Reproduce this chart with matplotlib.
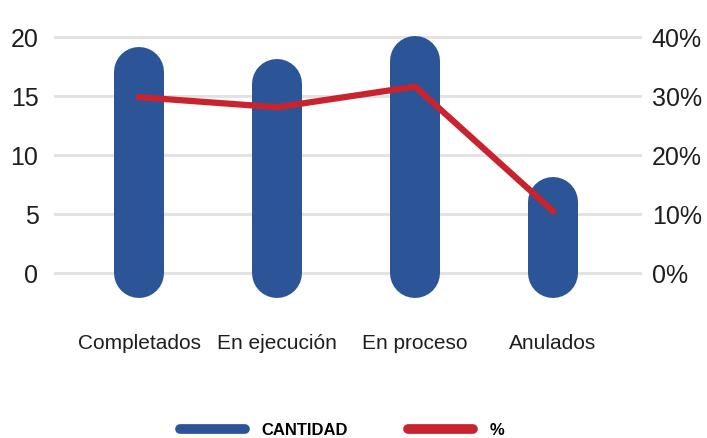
import matplotlib
matplotlib.use("Agg")
import matplotlib.pyplot as plt
from matplotlib.lines import Line2D
from matplotlib.ticker import FuncFormatter

# datos
categorias = ["Completados", "En ejecución", "En proceso", "Anulados"]
cantidad = [17, 16, 18, 6]
porcentaje = [29.8, 28.1, 31.6, 10.5]

azul = "#2B5597"
rojo = "#C8232F"

plt.rcParams["font.family"] = ["Liberation Sans", "DejaVu Sans"]

fig = plt.figure(figsize=(7.07, 4.38), dpi=100)
ax = fig.add_axes([0.078, 0.3767, 0.827, 0.5388])
ax2 = ax.twinx()

x = list(range(len(categorias)))

# barras redondeadas
for xi, v in zip(x, cantidad):
    ax.plot([xi, xi], [0, v], color=azul, linewidth=36, solid_capstyle="round",
            clip_on=False, zorder=3)

ax2.plot(x, porcentaje, color=rojo, linewidth=4.5, solid_joinstyle="round", zorder=4)

ax.set_xlim(-0.61, 3.63)
ax.set_ylim(0, 20)
ax.set_yticks([0, 5, 10, 15, 20])
ax2.set_ylim(0, 40)
ax2.set_yticks([0, 10, 20, 30, 40])
ax2.yaxis.set_major_formatter(FuncFormatter(lambda v, p: f"{v:.0f}%"))

ax.grid(axis="y", color="#E3E3E3", linewidth=2.2, zorder=0)
for gl in ax.get_ygridlines():
    gl.set_clip_on(False)
ax.set_axisbelow(True)

for a in (ax, ax2):
    for s in a.spines.values():
        s.set_visible(False)
    a.tick_params(length=0, labelsize=18, colors="#1E1E1E")

ax.tick_params(axis="y", pad=12)
ax2.tick_params(axis="y", pad=8.5)
ax.set_xticks(x)
ax.set_xticklabels(categorias, fontsize=15)
ax.tick_params(axis="x", pad=44)

handles = [
    Line2D([0], [0], color=azul, linewidth=7, solid_capstyle="round"),
    Line2D([0], [0], color=rojo, linewidth=7, solid_capstyle="round"),
]
fig.legend(handles, ["CANTIDAD", "%"], loc="lower center", bbox_to_anchor=(0.484, -0.035),
           ncol=2, frameon=False, handlelength=3.9, handletextpad=1.0,
           columnspacing=3.6, prop={"weight": "bold", "size": 12})

fig.savefig("out.png", dpi=100)
